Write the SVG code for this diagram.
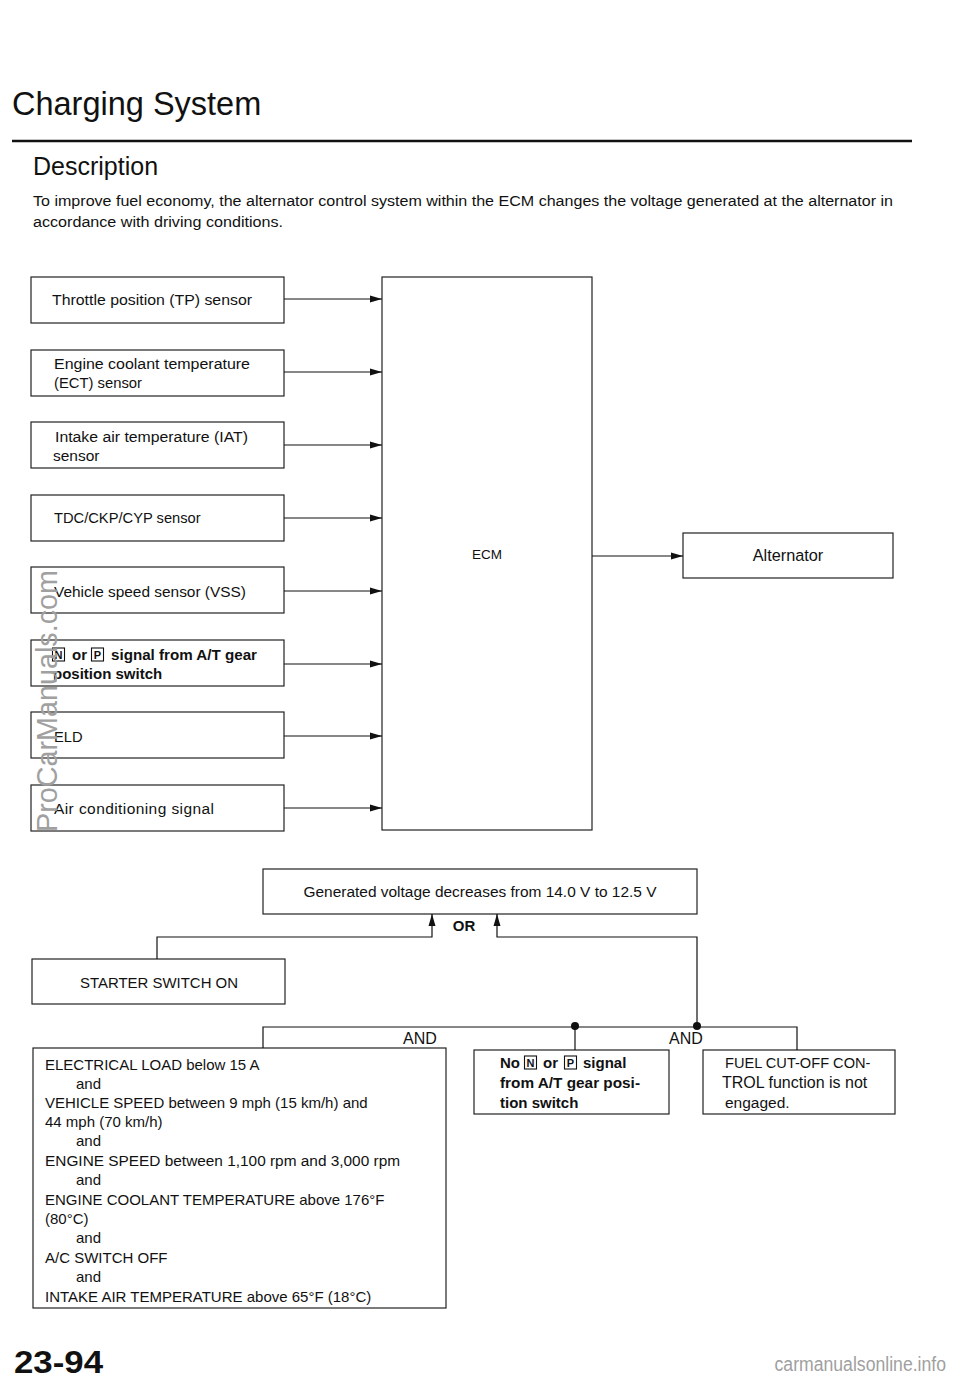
<svg xmlns="http://www.w3.org/2000/svg" width="960" height="1384" viewBox="0 0 960 1384">
<defs>
<style>
text{font-family:"Liberation Sans",Arial,sans-serif;fill:#111}
.box{fill:none;stroke:#222;stroke-width:1.2}
.ln{fill:none;stroke:#111;stroke-width:1.2}
.t{font-size:15.5px}
.c{font-size:15px}
.b{font-size:15px;font-weight:bold}
.sq{fill:none;stroke:#111;stroke-width:1.1}
.wm{fill:#a0a0a0}
</style>
<marker id="ar" markerWidth="13" markerHeight="9" refX="12" refY="4.5" orient="auto" markerUnits="userSpaceOnUse">
<path d="M0,1 L12,4.5 L0,8 Z" fill="#111"/>
</marker>
</defs>
<rect width="960" height="1384" fill="#fff"/>
<text x="12" y="115" style="font-size:32.5px">Charging System</text>
<line x1="12" y1="141" x2="912" y2="141" stroke="#111" stroke-width="2.5"/>
<text x="33" y="175" style="font-size:25px">Description</text>
<text x="33" y="206" style="font-size:15.5px" textLength="860" lengthAdjust="spacingAndGlyphs">To improve fuel economy, the alternator control system within the ECM changes the voltage generated at the alternator in</text>
<text x="33" y="227" style="font-size:15.5px" textLength="250" lengthAdjust="spacingAndGlyphs">accordance with driving conditions.</text>

<g id="tp"><rect class="box" x="31" y="277" width="253" height="46"/><text x="52" y="305" class="t" textLength="200" lengthAdjust="spacingAndGlyphs">Throttle position (TP) sensor</text></g>
<g id="ect"><rect class="box" x="31" y="350" width="253" height="46"/><text x="54" y="369" class="t" textLength="196" lengthAdjust="spacingAndGlyphs">Engine coolant temperature</text><text x="54" y="388" style="font-size:14.8px">(ECT) sensor</text></g>
<g id="iat"><rect class="box" x="31" y="422" width="253" height="46"/><text x="55" y="442" class="t" textLength="193" lengthAdjust="spacingAndGlyphs">Intake air temperature (IAT)</text><text x="53" y="461" class="t">sensor</text></g>
<g id="tdc"><rect class="box" x="31" y="495" width="253" height="46"/><text x="54" y="523" style="font-size:14.7px">TDC/CKP/CYP sensor</text></g>
<g id="vss"><rect class="box" x="31" y="567" width="253" height="46"/><text x="54" y="597" class="t" textLength="192" lengthAdjust="spacingAndGlyphs">Vehicle speed sensor (VSS)</text></g>
<g id="atgear"><rect class="box" x="31" y="640" width="253" height="46"/>
<rect class="sq" x="52.5" y="648" width="12" height="13"/><text x="58.5" y="659" class="b" text-anchor="middle" style="font-size:11px">N</text>
<text x="72" y="660" class="b">or</text>
<rect class="sq" x="91.5" y="648" width="12" height="13"/><text x="97.5" y="659" class="b" text-anchor="middle" style="font-size:11px">P</text>
<text x="111" y="660" class="b" textLength="146" lengthAdjust="spacingAndGlyphs">signal from A/T gear</text>
<text x="53" y="679" class="b">position switch</text></g>
<g id="eld"><rect class="box" x="31" y="712" width="253" height="46"/><text x="54" y="742" style="font-size:14.7px">ELD</text></g>
<g id="ac"><rect class="box" x="31" y="785" width="253" height="46"/><text x="54" y="814" class="t" textLength="160" lengthAdjust="spacing">Air conditioning signal</text></g>

<g id="ecm"><rect class="box" x="382" y="277" width="210" height="553"/><text x="487" y="559" style="font-size:13.5px" text-anchor="middle">ECM</text></g>
<g id="alt"><rect class="box" x="683" y="533" width="210" height="45"/><text x="788" y="561" style="font-size:16.3px" text-anchor="middle">Alternator</text></g>

<g id="gen"><rect class="box" x="263" y="869" width="434" height="45"/><text x="480" y="897" class="t" text-anchor="middle" textLength="353" lengthAdjust="spacingAndGlyphs">Generated voltage decreases from 14.0 V to 12.5 V</text></g>
<g id="starter"><rect class="box" x="32" y="959" width="253" height="45"/><text x="159" y="988" class="c" text-anchor="middle" textLength="158" lengthAdjust="spacingAndGlyphs">STARTER SWITCH ON</text></g>
<g id="cond"><rect class="box" x="33" y="1048" width="413" height="260"/>
<text class="c"><tspan x="45" y="1070">ELECTRICAL LOAD below 15 A</tspan><tspan x="76" y="1089">and</tspan><tspan x="45" y="1108">VEHICLE SPEED between 9 mph (15 km/h) and</tspan><tspan x="45" y="1127">44 mph (70 km/h)</tspan><tspan x="76" y="1146">and</tspan><tspan x="45" y="1166" style="font-size:15.4px">ENGINE SPEED between 1,100 rpm and 3,000 rpm</tspan><tspan x="76" y="1185">and</tspan><tspan x="45" y="1205">ENGINE COOLANT TEMPERATURE above 176°F</tspan><tspan x="45" y="1224">(80°C)</tspan><tspan x="76" y="1243">and</tspan><tspan x="45" y="1263">A/C SWITCH OFF</tspan><tspan x="76" y="1282">and</tspan><tspan x="45" y="1302">INTAKE AIR TEMPERATURE above 65°F (18°C)</tspan></text></g>
<g id="nonp"><rect class="box" x="474" y="1050" width="195" height="64"/>
<text x="500" y="1068" class="b">No</text>
<rect class="sq" x="524.5" y="1056" width="12" height="13"/><text x="530.5" y="1067" class="b" text-anchor="middle" style="font-size:11px">N</text>
<text x="543" y="1068" class="b">or</text>
<rect class="sq" x="564.5" y="1056" width="12" height="13"/><text x="570.5" y="1067" class="b" text-anchor="middle" style="font-size:11px">P</text>
<text x="583" y="1068" class="b">signal</text>
<text x="500" y="1088" class="b" textLength="140" lengthAdjust="spacingAndGlyphs">from A/T gear posi-</text>
<text x="500" y="1108" class="b">tion switch</text></g>
<g id="fuel"><rect class="box" x="703" y="1050" width="192" height="64"/>
<text x="725" y="1068" style="font-size:14.6px">FUEL CUT-OFF CON-</text><text x="722" y="1088" style="font-size:16px">TROL function is not</text><text x="725" y="1108" class="t">engaged.</text></g>

<g id="connectors">
<line class="ln" x1="284" y1="299" x2="382" y2="299" marker-end="url(#ar)"/>
<line class="ln" x1="284" y1="372" x2="382" y2="372" marker-end="url(#ar)"/>
<line class="ln" x1="284" y1="445" x2="382" y2="445" marker-end="url(#ar)"/>
<line class="ln" x1="284" y1="518" x2="382" y2="518" marker-end="url(#ar)"/>
<line class="ln" x1="284" y1="591" x2="382" y2="591" marker-end="url(#ar)"/>
<line class="ln" x1="284" y1="664" x2="382" y2="664" marker-end="url(#ar)"/>
<line class="ln" x1="284" y1="736" x2="382" y2="736" marker-end="url(#ar)"/>
<line class="ln" x1="284" y1="808" x2="382" y2="808" marker-end="url(#ar)"/>
<line class="ln" x1="592" y1="556" x2="683" y2="556" marker-end="url(#ar)"/>
<polyline class="ln" points="157,959 157,937 432,937 432,914" marker-end="url(#ar)"/>
<polyline class="ln" points="697,1027 697,937 497,937 497,914" marker-end="url(#ar)"/>
<polyline class="ln" points="263,1048 263,1027 797,1027 797,1050"/>
<line class="ln" x1="575" y1="1027" x2="575" y2="1050"/>
<circle cx="575" cy="1026" r="4" fill="#111"/>
<circle cx="697" cy="1026" r="4" fill="#111"/>
<text x="464" y="931" class="b" text-anchor="middle">OR</text>
<text x="420" y="1044" style="font-size:16px" text-anchor="middle">AND</text>
<text x="686" y="1044" style="font-size:16px" text-anchor="middle">AND</text>
</g>

<text x="14" y="1373" style="font-size:32px;font-weight:bold" textLength="89" lengthAdjust="spacingAndGlyphs">23-94</text>
<text transform="translate(946,1371) scale(0.84,1)" class="wm" style="font-size:21px" text-anchor="end">carmanualsonline.info</text>
<text transform="translate(57,832) rotate(-90)" class="wm" style="font-size:29px" textLength="262" lengthAdjust="spacingAndGlyphs">ProCarManuals.com</text>
</svg>
